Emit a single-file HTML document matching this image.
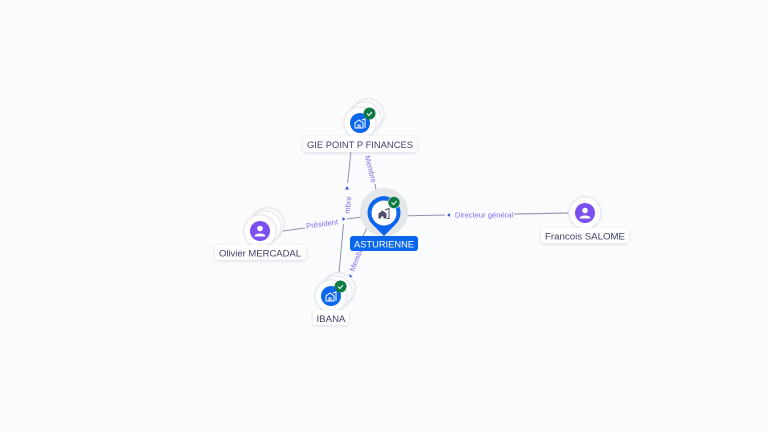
<!DOCTYPE html>
<html><head><meta charset="utf-8"><style>
html,body{margin:0;padding:0;background:#fbfcfe}
svg{display:block}
text{font-family:"Liberation Sans",sans-serif}
.l{font-size:9.2px;fill:#3d4266;text-anchor:middle}
.e{font-size:7.6px;fill:#7a6ff0;text-anchor:middle}
.c{fill:#fff;stroke:#e8eaef;stroke-width:1.2;filter:url(#n)}
.ln{stroke:#8d92a8;stroke-width:1;fill:none}
.a{fill:#3f55d8}
.h{fill:none;stroke:#fff;stroke-width:1}
</style></head><body>
<svg width="768" height="432" viewBox="0 0 768 432" xmlns="http://www.w3.org/2000/svg">
<defs>
<filter id="s" x="-20%" y="-40%" width="140%" height="180%"><feDropShadow dx="0" dy="1" stdDeviation="1.5" flood-color="#8890a8" flood-opacity=".3"/></filter>
<filter id="n" x="-20%" y="-20%" width="140%" height="140%"><feDropShadow dx="0" dy="0" stdDeviation="1" flood-color="#8890a8" flood-opacity=".2"/></filter>
</defs>
<rect width="768" height="432" fill="#fbfcfe"/>

<path class="ln" d="M351 150L347.700 183M343.500 224L339 273"/>
<path class="ln" d="M375 184L377.500 198"/>
<path class="ln" d="M283 231L305 228M347 219L370 216"/>
<path class="ln" d="M370 222L361 240"/>
<path class="ln" d="M398 216L445 215"/>
<path d="M514 214L571 213" stroke="#9a9eb2" stroke-width="1.3" fill="none"/>

<path class="a" d="M347 186l2 3.500h-4z"/>
<path class="a" d="M345.500 219l-3-2v4z"/>
<path class="a" d="M350 274l2.500 3-3.800.6z"/>
<path class="a" d="M447 215l3-2v4z"/>

<text class="e" transform="translate(347.500 205) rotate(-84)" dy="3">mbre</text>
<text class="e" transform="translate(371 169) rotate(76)" dy="3">Membre</text>
<text class="e" transform="translate(322 223.500) rotate(-8)" dy="3">Président</text>
<text class="e" transform="translate(356.500 258) rotate(-68)" dy="3">Membre</text>
<text class="e" x="484" y="217.500">Directeur général</text>

<!-- GIE -->
<circle class="c" cx="368" cy="115" r="16"/><circle class="c" cx="365" cy="118" r="16"/><circle class="c" cx="360" cy="123" r="16"/>
<circle cx="360" cy="123" r="10" fill="#0b66ee"/>
<path class="h" d="M355 128v-5l4-3 4 3v5zM358 128v-3h2v3M362 120l3-1v9"/>
<circle cx="369.500" cy="113.500" r="6" fill="#0f7a43"/>
<path d="M367 113.500l2 2 3-3.500" stroke="#fff" stroke-width="1" fill="none"/>
<rect x="303" y="136" width="114" height="16" rx="3" fill="#fff" filter="url(#s)"/>
<text class="l" x="360" y="148" textLength="106" lengthAdjust="spacingAndGlyphs">GIE POINT P FINANCES</text>

<!-- Olivier -->
<circle class="c" cx="268" cy="224" r="16"/><circle class="c" cx="265" cy="227" r="16"/><circle class="c" cx="260" cy="231" r="16"/>
<circle cx="260" cy="231" r="10" fill="#7b4ff0"/>
<circle cx="260" cy="228.500" r="2.800" fill="#fff"/><path d="M254.500 236.500c0-4 11-4 11 0z" fill="#fff"/>
<rect x="215" y="245" width="91" height="15" rx="3" fill="#fff" filter="url(#s)"/>
<text class="l" x="260" y="256.500" textLength="82" lengthAdjust="spacingAndGlyphs">Olivier MERCADAL</text>

<!-- IBANA -->
<circle class="c" cx="339" cy="289" r="16"/><circle class="c" cx="336" cy="292" r="16"/><circle class="c" cx="331" cy="296" r="16"/>
<circle cx="331" cy="296" r="10" fill="#0b66ee"/>
<path class="h" d="M326 301v-5l4-3 4 3v5zM329 301v-3h2v3M333 293l3-1v9"/>
<circle cx="340.500" cy="286.500" r="6" fill="#0f7a43"/>
<path d="M338 286.500l2 2 3-3.500" stroke="#fff" stroke-width="1" fill="none"/>
<rect x="313" y="310" width="36" height="15" rx="3" fill="#fff" filter="url(#s)"/>
<text class="l" x="331" y="322" textLength="29" lengthAdjust="spacingAndGlyphs">IBANA</text>

<!-- Francois -->
<circle class="c" cx="585" cy="213" r="16"/>
<circle cx="585" cy="213" r="10" fill="#7b4ff0"/>
<circle cx="585" cy="210.500" r="2.800" fill="#fff"/><path d="M579.500 218.500c0-4 11-4 11 0z" fill="#fff"/>
<rect x="541" y="228" width="88" height="15" rx="3" fill="#fff" filter="url(#s)"/>
<text class="l" x="585" y="239.500" textLength="80" lengthAdjust="spacingAndGlyphs">Francois SALOME</text>

<!-- Center -->
<circle cx="384" cy="212" r="24" fill="#e6e7ea"/>
<path d="M384 236l-11.500-11.500a16.500 16.500 0 1 1 23 0z" fill="#0b66ee"/>
<circle cx="384" cy="213" r="12.500" fill="#fff"/>
<path d="M378.500 218.500v-5l4-3 4 3v5z" fill="#4a4e68"/>
<path d="M385 210l4-1.500v10h-2" stroke="#4a4e68" fill="none"/>
<path d="M381 218.500v-2h2.500v2" fill="#fff"/>
<circle cx="394" cy="202.500" r="6" fill="#0f7a43" stroke="#e3f0ea" stroke-width=".6"/>
<path d="M391.500 202.500l2 2 3-3.500" stroke="#fff" stroke-width="1" fill="none"/>
<rect x="350" y="236" width="68" height="15" rx="3" fill="#0b66ee"/>
<text x="384" y="247.500" text-anchor="middle" font-size="9.200" textLength="60" lengthAdjust="spacingAndGlyphs" fill="#fff">ASTURIENNE</text>
</svg>
</body></html>
